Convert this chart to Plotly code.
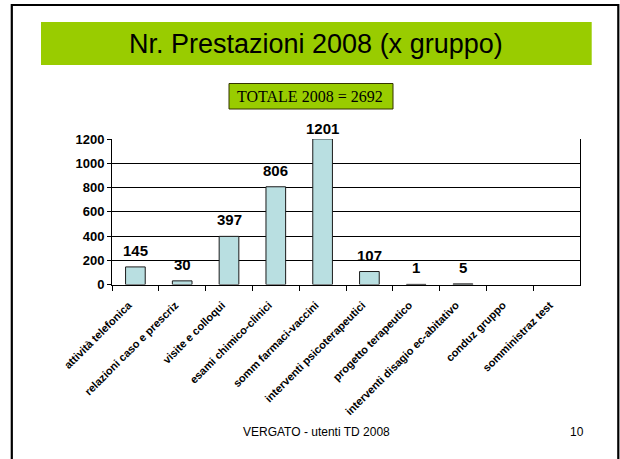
import plotly.graph_objects as go

W, H = 620, 459

categories = [
    "attività telefonica",
    "relazioni caso e prescriz",
    "visite e colloqui",
    "esami chimico-clinici",
    "somm farmaci-vaccini",
    "interventi psicoterapeutici",
    "progetto terapeutico",
    "interventi disagio ec-abitativo",
    "conduz gruppo",
    "somministraz test",
]
values = [145, 30, 397, 806, 1201, 107, 1, 5, None, None]
y_ticks = [0, 200, 400, 600, 800, 1000, 1200]
y_max = 1200

title_text = "Nr. Prestazioni 2008 (x gruppo)"
total_text = "TOTALE 2008 = 2692"
footer_text = "VERGATO - utenti TD 2008"
page_text = "10"


def px(x):
    return x / W


def py(y):
    return 1 - y / H


fig = go.Figure()
fig.add_trace(go.Bar(
    x=categories,
    y=values,
    marker=dict(color="#B9DFE1", line=dict(color="#1a1a1a", width=1)),
    cliponaxis=False,
    hoverinfo="x+y",
))

SANS = "Liberation Sans, Arial, sans-serif"

# value labels from the data
for c, v in zip(categories, values):
    if v is None:
        continue
    fig.add_annotation(
        x=c, y=min(v, y_max), xref="x", yref="y",
        text=str(v), showarrow=False, yanchor="bottom",
        yshift=6 if v <= y_max * 0.98 else 0,
        font=dict(family=SANS, size=15, color="black", weight="bold"),
    )

fig.update_layout(
    width=W, height=H,
    autosize=False,
    margin=dict(l=0, r=0, t=0, b=0, pad=0, autoexpand=False),
    paper_bgcolor="white",
    plot_bgcolor="white",
    showlegend=False,
    bargap=0.58,
    font=dict(family=SANS, color="black"),
    xaxis=dict(
        domain=[px(112), px(580)],
        type="category",
        automargin=False,
        tickangle=-45,
        tickfont=dict(family=SANS, size=11, color="black", weight="bold"),
        ticklabelstandoff=9,
        ticklabelshift=-7,
        showline=True, linecolor="black", linewidth=1,
        ticks="outside", tickson="boundaries", ticklen=5, tickcolor="black",
        showgrid=False,
        anchor="y",
    ),
    yaxis=dict(
        domain=[py(284.5), py(139)],
        range=[0, y_max],
        automargin=False,
        tickvals=y_ticks,
        tickfont=dict(family=SANS, size=13, color="black", weight="bold"),
        showline=True, linecolor="black", linewidth=1, mirror=True,
        ticks="outside", ticklen=4, tickcolor="black",
        showgrid=True, gridcolor="black", gridwidth=1,
        zeroline=False,
    ),
    shapes=[
        # slide border
        dict(type="rect", xref="paper", yref="paper",
             x0=px(11.8), x1=px(618.3), y0=py(475), y1=py(5),
             line=dict(color="black", width=2.2), fillcolor="rgba(0,0,0,0)", layer="below"),
        # title band
        dict(type="rect", xref="paper", yref="paper",
             x0=px(41), x1=px(591.7), y0=py(65), y1=py(22),
             line=dict(width=0), fillcolor="#99CC00", layer="below"),
        # total box
        dict(type="rect", xref="paper", yref="paper",
             x0=px(229), x1=px(393), y0=py(109), y1=py(83.5),
             line=dict(color="#333300", width=1), fillcolor="#99CC00", layer="below"),
    ],
)

fig.add_annotation(
    x=px(316.4), y=py(43.5), xref="paper", yref="paper",
    text=title_text, showarrow=False, xanchor="center", yanchor="middle",
    font=dict(family=SANS, size=27, color="black"),
)
fig.add_annotation(
    x=px(235), y=py(96.5), xref="paper", yref="paper",
    text=total_text, showarrow=False, xanchor="left", yanchor="middle",
    font=dict(family="Liberation Serif, Times New Roman, serif", size=16, color="black"),
)
fig.add_annotation(
    x=px(316), y=py(432), xref="paper", yref="paper",
    text=footer_text, showarrow=False, xanchor="center", yanchor="middle",
    font=dict(family=SANS, size=12, color="black"),
)
fig.add_annotation(
    x=px(577), y=py(432), xref="paper", yref="paper",
    text=page_text, showarrow=False, xanchor="center", yanchor="middle",
    font=dict(family=SANS, size=12, color="black"),
)

fig.write_html(
    "out.html",
    config={"responsive": False, "displayModeBar": False},
    post_script="document.body.style.margin='0';document.body.style.overflow='hidden';",
)
